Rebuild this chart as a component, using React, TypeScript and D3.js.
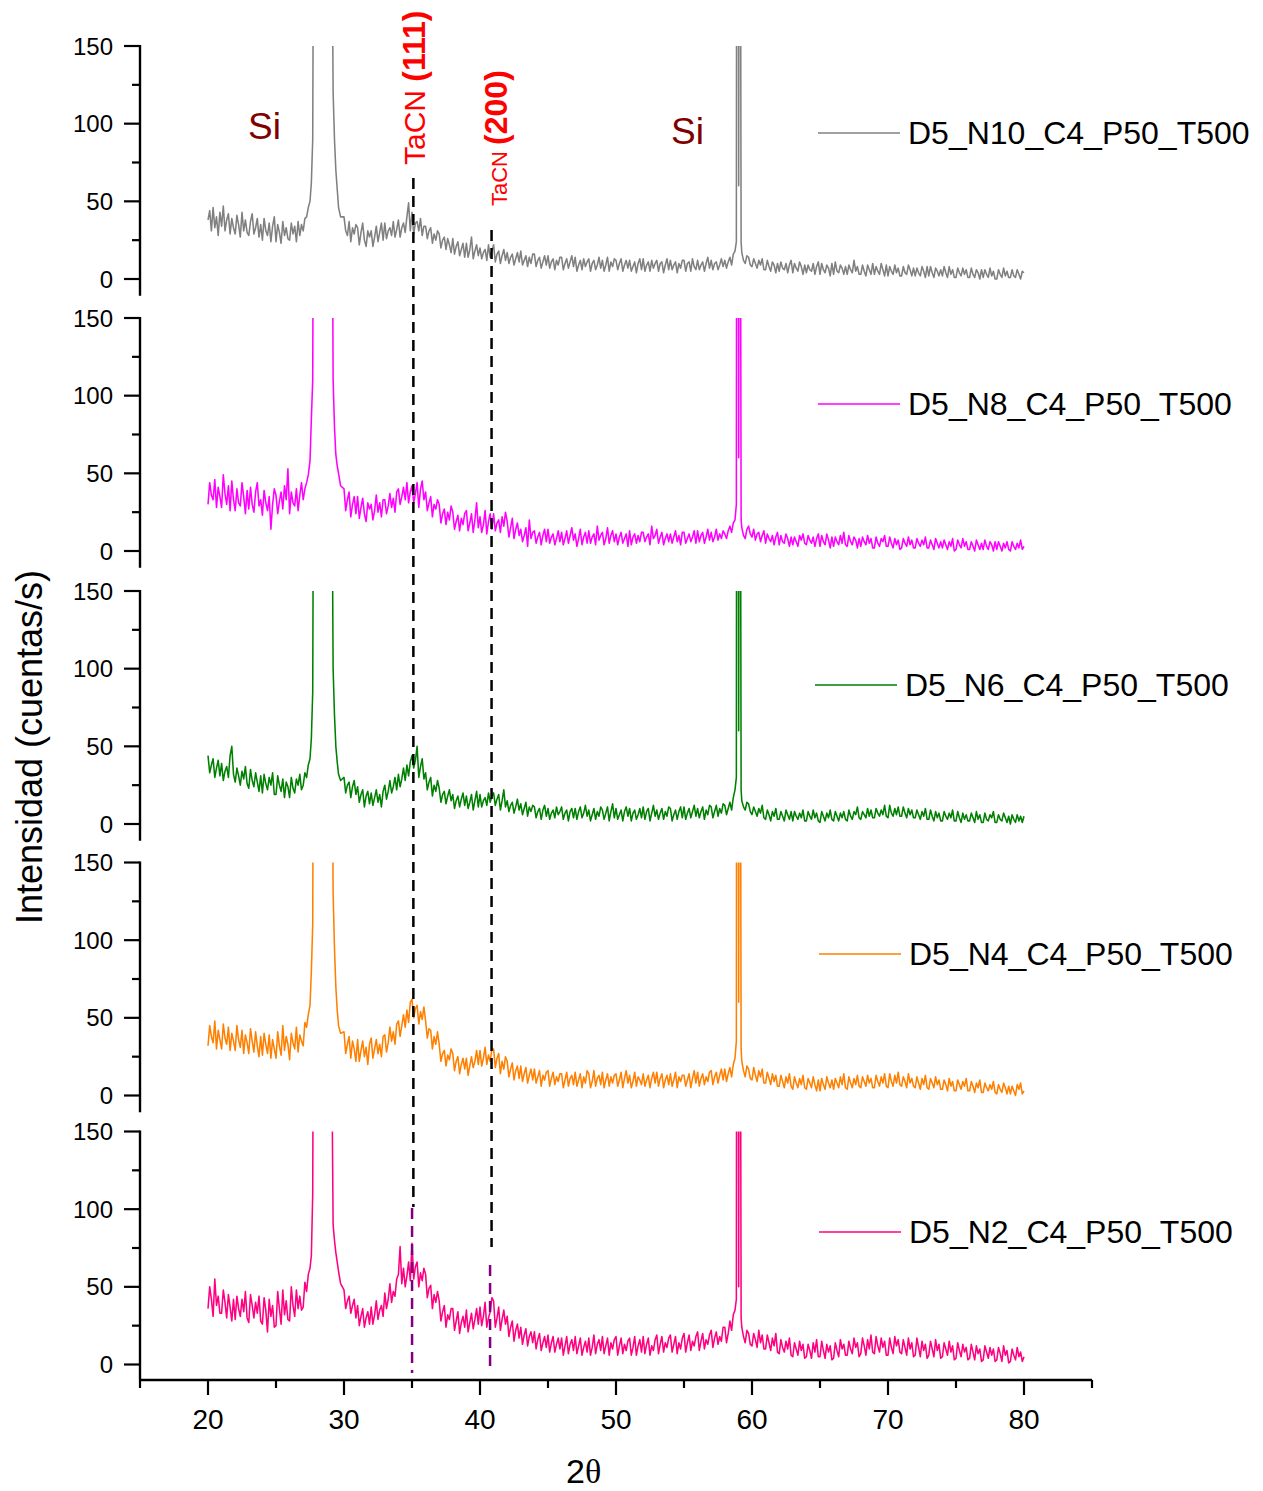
import React from "react";
import * as d3 from "d3";

// 2θ sampling positions shared by all five patterns
const ANGLES = [
  20, 20.125, 20.25, 20.375, 20.5, 20.625, 20.75, 20.875,
  21, 21.125, 21.25, 21.375, 21.5, 21.625, 21.75, 21.875,
  22, 22.125, 22.25, 22.375, 22.5, 22.625, 22.75, 22.875,
  23, 23.125, 23.25, 23.375, 23.5, 23.625, 23.75, 23.875,
  24, 24.125, 24.25, 24.375, 24.5, 24.625, 24.75, 24.875,
  25, 25.125, 25.25, 25.375, 25.5, 25.625, 25.75, 25.875,
  26, 26.125, 26.25, 26.375, 26.5, 26.625, 26.75, 26.875,
  27, 27.125, 27.25, 27.375, 27.5,
  27.6, 27.7, 27.75, 28.4, 29.1, 29.2, 29.3, 29.4, 29.5, 29.6, 29.75,
  30, 30.125, 30.25, 30.375, 30.5, 30.625, 30.75, 30.875,
  31, 31.125, 31.25, 31.375, 31.5, 31.625, 31.75, 31.875,
  32, 32.125, 32.25, 32.375, 32.5, 32.625, 32.75, 32.875,
  33, 33.125, 33.25, 33.375, 33.5, 33.625, 33.75, 33.875,
  34, 34.125, 34.25, 34.375, 34.5, 34.625, 34.75, 34.875,
  35, 35.125, 35.25, 35.375, 35.5, 35.625, 35.75, 35.875,
  36, 36.125, 36.25, 36.375, 36.5, 36.625, 36.75, 36.875,
  37, 37.125, 37.25, 37.375, 37.5, 37.625, 37.75, 37.875,
  38, 38.125, 38.25, 38.375, 38.5, 38.625, 38.75, 38.875,
  39, 39.125, 39.25, 39.375, 39.5, 39.625, 39.75, 39.875,
  40, 40.125, 40.25, 40.375, 40.5, 40.625, 40.75, 40.875,
  41, 41.125, 41.25, 41.375, 41.5, 41.625, 41.75, 41.875,
  42, 42.125, 42.25, 42.375, 42.5, 42.625, 42.75, 42.875,
  43, 43.125, 43.25, 43.375, 43.5, 43.625, 43.75, 43.875,
  44, 44.125, 44.25, 44.375, 44.5, 44.625, 44.75, 44.875,
  45, 45.125, 45.25, 45.375, 45.5, 45.625, 45.75, 45.875,
  46, 46.125, 46.25, 46.375, 46.5, 46.625, 46.75, 46.875,
  47, 47.125, 47.25, 47.375, 47.5, 47.625, 47.75, 47.875,
  48, 48.125, 48.25, 48.375, 48.5, 48.625, 48.75, 48.875,
  49, 49.125, 49.25, 49.375, 49.5, 49.625, 49.75, 49.875,
  50, 50.125, 50.25, 50.375, 50.5, 50.625, 50.75, 50.875,
  51, 51.125, 51.25, 51.375, 51.5, 51.625, 51.75, 51.875,
  52, 52.125, 52.25, 52.375, 52.5, 52.625, 52.75, 52.875,
  53, 53.125, 53.25, 53.375, 53.5, 53.625, 53.75, 53.875,
  54, 54.125, 54.25, 54.375, 54.5, 54.625, 54.75, 54.875,
  55, 55.125, 55.25, 55.375, 55.5, 55.625, 55.75, 55.875,
  56, 56.125, 56.25, 56.375, 56.5, 56.625, 56.75, 56.875,
  57, 57.125, 57.25, 57.375, 57.5, 57.625, 57.75, 57.875,
  58, 58.125, 58.25, 58.375, 58.5, 58.625, 58.75,
  58.85, 58.9, 58.95, 59.02, 59.1, 59.15, 59.2,
  59.25, 59.375, 59.5, 59.625, 59.75, 59.875,
  60, 60.125, 60.25, 60.375, 60.5, 60.625, 60.75, 60.875,
  61, 61.125, 61.25, 61.375, 61.5, 61.625, 61.75, 61.875,
  62, 62.125, 62.25, 62.375, 62.5, 62.625, 62.75, 62.875,
  63, 63.125, 63.25, 63.375, 63.5, 63.625, 63.75, 63.875,
  64, 64.125, 64.25, 64.375, 64.5, 64.625, 64.75, 64.875,
  65, 65.125, 65.25, 65.375, 65.5, 65.625, 65.75, 65.875,
  66, 66.125, 66.25, 66.375, 66.5, 66.625, 66.75, 66.875,
  67, 67.125, 67.25, 67.375, 67.5, 67.625, 67.75, 67.875,
  68, 68.125, 68.25, 68.375, 68.5, 68.625, 68.75, 68.875,
  69, 69.125, 69.25, 69.375, 69.5, 69.625, 69.75, 69.875,
  70, 70.125, 70.25, 70.375, 70.5, 70.625, 70.75, 70.875,
  71, 71.125, 71.25, 71.375, 71.5, 71.625, 71.75, 71.875,
  72, 72.125, 72.25, 72.375, 72.5, 72.625, 72.75, 72.875,
  73, 73.125, 73.25, 73.375, 73.5, 73.625, 73.75, 73.875,
  74, 74.125, 74.25, 74.375, 74.5, 74.625, 74.75, 74.875,
  75, 75.125, 75.25, 75.375, 75.5, 75.625, 75.75, 75.875,
  76, 76.125, 76.25, 76.375, 76.5, 76.625, 76.75, 76.875,
  77, 77.125, 77.25, 77.375, 77.5, 77.625, 77.75, 77.875,
  78, 78.125, 78.25, 78.375, 78.5, 78.625, 78.75, 78.875,
  79, 79.125, 79.25, 79.375, 79.5, 79.625, 79.75, 79.875,
  80,
];

const N10 = [
  38, 44, 31, 46, 33, 40, 28, 43,
  34, 47, 31, 38, 42, 29, 39, 33,
  29, 41, 35, 27, 43, 31, 38, 30,
  28, 37, 42, 29, 33, 39, 27, 35,
  25, 39, 31, 28, 36, 24, 34, 40,
  24, 35, 30, 23, 37, 28, 33, 26,
  25, 36, 29, 34, 24, 37, 28, 35,
  31, 39, 40, 46, 50,
  62, 90, 220, 3000, 250, 120, 90, 70, 58, 46, 40,
  40, 31, 28, 37, 24, 33, 29, 35,
  33, 22, 30, 36, 25, 21, 31, 27,
  31, 21, 27, 34, 24, 30, 36, 25,
  36, 26, 31, 33, 28, 37, 27, 32,
  38, 27, 33, 36, 30, 40, 49, 31,
  43, 29, 36, 37, 31, 39, 28, 34,
  34, 26, 31, 33, 23, 29, 25, 31,
  29, 20, 25, 27, 19, 26, 22, 17,
  26, 16, 21, 24, 15, 19, 23, 14,
  23, 14, 19, 27, 13, 18, 22, 15,
  20, 13, 17, 19, 12, 22, 14, 18,
  22, 11, 16, 18, 10, 15, 19, 12,
  17, 10, 14, 16, 9, 13, 17, 11,
  18, 9, 12, 15, 8, 14, 10, 16,
  16, 8, 12, 14, 7, 11, 15, 9,
  15, 7, 11, 13, 6, 12, 9, 14,
  14, 6, 10, 13, 7, 11, 15, 8,
  14, 5, 9, 12, 6, 13, 8, 11,
  13, 5, 10, 12, 6, 9, 14, 7,
  12, 5, 9, 14, 5, 11, 8, 13,
  12, 6, 10, 13, 5, 9, 12, 7,
  12, 5, 8, 11, 4, 10, 13, 6,
  13, 5, 9, 11, 5, 12, 7, 10,
  12, 5, 10, 11, 4, 9, 13, 6,
  12, 6, 9, 11, 4, 10, 7, 12,
  12, 5, 10, 11, 5, 13, 8, 6,
  12, 6, 9, 11, 5, 10, 14, 7,
  12, 6, 10, 11, 6, 9, 13, 8,
  12, 7, 11, 14, 9, 16, 18,
  24, 600, 600, 60, 600, 250, 24,
  17, 12, 10, 15, 14, 9,
  8, 13, 10, 7, 12, 9, 13, 6,
  6, 12, 8, 5, 11, 9, 4, 10,
  5, 11, 7, 6, 10, 4, 9, 12,
  4, 10, 7, 5, 11, 8, 3, 9,
  4, 9, 6, 5, 10, 3, 8, 11,
  3, 10, 6, 4, 9, 7, 2, 10,
  3, 11, 5, 4, 9, 7, 3, 8,
  3, 9, 6, 4, 12, 5, 8, 3,
  3, 9, 5, 2, 9, 6, 3, 10,
  3, 8, 5, 3, 10, 6, 2, 9,
  2, 8, 5, 3, 9, 4, 7, 2,
  2, 8, 4, 3, 9, 6, 2, 7,
  2, 7, 4, 2, 8, 5, 1, 8,
  2, 8, 4, 1, 7, 5, 2, 6,
  2, 8, 4, 1, 8, 3, 6, 1,
  1, 7, 4, 2, 7, 3, 6, 1,
  1, 7, 3, 1, 6, 4, 0, 6,
  1, 6, 3, 1, 7, 2, 5, 0,
  0, 6, 3, 1, 7, 2, 5, 1,
  1, 6, 2, 1, 6, 3, 0, 5,
  4,
];

const N8 = [
  30, 44, 36, 33, 46, 28, 41, 35,
  28, 49, 37, 30, 42, 26, 45, 33,
  26, 40, 31, 29, 44, 35, 24, 39,
  27, 41, 30, 25, 38, 44, 29, 33,
  23, 39, 31, 26, 35, 14, 30, 40,
  36, 24, 32, 38, 27, 42, 33, 53,
  24, 38, 31, 29, 40, 26, 36, 44,
  33, 40, 44, 49, 58,
  85, 110, 250, 3000, 300, 110, 80, 62, 55, 50, 42,
  40, 26, 33, 38, 22, 30, 35, 24,
  35, 21, 28, 34, 24, 19, 31, 27,
  30, 20, 26, 36, 25, 31, 22, 33,
  33, 24, 29, 37, 28, 34, 25, 38,
  40, 30, 35, 41, 33, 44, 31, 38,
  42, 31, 37, 44, 28, 40, 45, 33,
  38, 26, 31, 35, 22, 30, 27, 33,
  30, 18, 24, 27, 17, 25, 20, 29,
  25, 14, 19, 23, 13, 21, 17, 24,
  26, 13, 18, 24, 12, 20, 31, 15,
  22, 12, 17, 26, 11, 19, 24, 14,
  24, 13, 18, 20, 12, 22, 16, 25,
  19, 9, 15, 21, 8, 14, 18, 10,
  14, 6, 10, 15, 3, 20, 8, 12,
  13, 5, 9, 12, 4, 10, 14, 6,
  14, 5, 9, 11, 4, 8, 13, 6,
  12, 4, 8, 13, 5, 10, 15, 7,
  11, 3, 8, 14, 4, 9, 12, 5,
  13, 5, 9, 11, 4, 16, 7, 10,
  12, 4, 8, 15, 5, 10, 13, 6,
  11, 4, 9, 12, 5, 8, 11, 3,
  13, 4, 9, 11, 5, 10, 6, 12,
  12, 6, 9, 11, 4, 16, 8, 10,
  14, 5, 9, 12, 4, 8, 11, 6,
  11, 5, 9, 13, 6, 10, 4, 12,
  12, 5, 8, 11, 6, 9, 13, 5,
  13, 6, 10, 12, 5, 9, 14, 7,
  12, 6, 9, 14, 7, 11, 8, 13,
  11, 8, 13, 16, 12, 18, 20,
  30, 600, 600, 60, 600, 250, 20,
  15, 10, 8, 14, 16, 11,
  9, 14, 7, 11, 12, 6, 10, 13,
  5, 11, 8, 6, 10, 4, 9, 12,
  4, 10, 6, 5, 11, 8, 3, 9,
  4, 9, 6, 3, 10, 7, 11, 5,
  4, 10, 7, 5, 9, 3, 8, 11,
  3, 10, 6, 4, 11, 7, 2, 9,
  3, 9, 6, 4, 10, 5, 12, 4,
  3, 10, 6, 4, 9, 7, 2, 8,
  3, 9, 6, 4, 10, 5, 8, 2,
  2, 9, 5, 3, 8, 6, 10, 3,
  3, 9, 5, 2, 8, 4, 7, 1,
  2, 8, 5, 3, 9, 4, 7, 2,
  2, 8, 5, 3, 7, 4, 9, 2,
  2, 7, 4, 1, 8, 5, 2, 6,
  2, 7, 4, 1, 6, 3, 8, 0,
  1, 7, 4, 2, 8, 3, 6, 1,
  1, 6, 3, 0, 7, 4, 1, 5,
  1, 7, 3, 1, 6, 4, 0, 6,
  1, 6, 3, 0, 5, 2, 6, 1,
  0, 6, 3, 1, 5, 2, 7, 1,
  3,
];

const N6 = [
  44, 33, 38, 42, 30, 36, 41, 31,
  39, 28, 34, 37, 30, 44, 50, 32,
  27, 36, 31, 25, 34, 29, 37, 26,
  23, 35, 28, 24, 33, 27, 21, 31,
  20, 32, 26, 22, 30, 25, 33, 19,
  19, 31, 25, 21, 29, 17, 27, 24,
  17, 30, 23, 20, 29, 25, 32, 22,
  25, 33, 30, 38, 42,
  55, 85, 220, 3000, 250, 100, 70, 50, 40, 32, 28,
  30, 20, 25, 27, 17, 24, 28, 19,
  24, 14, 19, 22, 11, 18, 21, 13,
  20, 12, 17, 22, 14, 19, 11, 21,
  25, 16, 21, 28, 20, 24, 30, 22,
  32, 24, 29, 36, 28, 38, 31, 40,
  44, 36, 41, 50, 30, 37, 42, 29,
  33, 22, 27, 30, 18, 25, 21, 28,
  23, 14, 19, 21, 13, 18, 22, 15,
  19, 10, 15, 18, 11, 16, 20, 12,
  18, 10, 14, 19, 9, 15, 21, 11,
  19, 11, 15, 17, 12, 20, 14, 18,
  20, 12, 16, 19, 9, 15, 22, 11,
  15, 8, 12, 14, 7, 11, 16, 9,
  13, 6, 10, 14, 5, 11, 8, 12,
  11, 4, 8, 10, 3, 9, 12, 5,
  10, 3, 7, 9, 4, 11, 6, 8,
  11, 3, 7, 9, 2, 8, 10, 4,
  10, 3, 8, 11, 4, 7, 12, 5,
  9, 2, 6, 10, 3, 8, 5, 11,
  9, 3, 7, 11, 2, 8, 13, 4,
  10, 3, 6, 9, 2, 8, 11, 5,
  10, 2, 7, 9, 3, 6, 10, 4,
  11, 3, 8, 10, 2, 7, 12, 5,
  9, 3, 7, 10, 3, 8, 5, 11,
  10, 2, 6, 9, 3, 8, 11, 4,
  11, 3, 7, 10, 4, 8, 12, 5,
  10, 4, 8, 11, 3, 9, 6, 12,
  11, 4, 8, 12, 5, 10, 7, 13,
  12, 6, 10, 14, 9, 17, 22,
  30, 600, 600, 60, 600, 250, 22,
  15, 11, 9, 14, 13, 8,
  6, 11, 8, 5, 10, 7, 12, 4,
  3, 9, 6, 2, 8, 5, 10, 3,
  3, 8, 5, 2, 9, 6, 3, 8,
  2, 8, 5, 3, 7, 4, 9, 2,
  2, 8, 5, 3, 9, 4, 7, 2,
  1, 8, 5, 2, 7, 4, 9, 3,
  2, 8, 5, 2, 7, 4, 8, 3,
  2, 9, 5, 3, 8, 6, 11, 4,
  3, 8, 6, 4, 10, 5, 9, 4,
  4, 10, 7, 5, 9, 6, 12, 5,
  4, 12, 7, 5, 10, 6, 11, 5,
  5, 11, 7, 4, 10, 6, 9, 4,
  4, 9, 6, 3, 8, 5, 10, 3,
  3, 9, 5, 2, 8, 4, 7, 2,
  2, 8, 5, 3, 7, 4, 9, 2,
  2, 8, 4, 1, 7, 3, 6, 2,
  2, 7, 4, 1, 8, 3, 6, 1,
  1, 7, 3, 2, 6, 4, 8, 1,
  1, 6, 3, 2, 7, 4, 1, 5,
  0, 6, 3, 1, 6, 2, 5, 1,
  5,
];

const N4 = [
  32, 45, 38, 34, 48, 30, 42, 36,
  30, 46, 37, 33, 44, 29, 40, 35,
  29, 45, 36, 31, 42, 27, 39, 34,
  27, 43, 35, 28, 41, 32, 25, 38,
  26, 40, 33, 27, 39, 24, 36, 30,
  24, 41, 32, 26, 45, 29, 38, 33,
  23, 40, 34, 30, 44, 28, 39, 35,
  32, 47, 44, 52, 58,
  80, 110, 250, 3000, 280, 130, 95, 70, 55, 45, 40,
  41, 27, 33, 38, 24, 35, 30, 22,
  36, 22, 29, 35, 25, 31, 20, 33,
  37, 24, 30, 36, 27, 33, 25, 38,
  39, 28, 34, 44, 35, 41, 33, 46,
  48, 38, 45, 52, 44, 55, 47, 60,
  62, 50, 56, 58, 46, 54, 49, 57,
  48, 37, 43, 42, 30, 38, 33, 41,
  33, 22, 27, 29, 19, 26, 23, 30,
  27, 16, 22, 25, 14, 20, 24, 17,
  24, 13, 19, 25, 18, 22, 29, 20,
  29, 19, 24, 31, 20, 26, 22, 30,
  30, 18, 24, 27, 14, 22, 17, 25,
  22, 12, 17, 21, 10, 16, 19, 11,
  19, 9, 14, 18, 8, 13, 17, 10,
  17, 8, 12, 16, 6, 13, 10, 15,
  16, 6, 11, 15, 7, 12, 9, 14,
  14, 5, 10, 15, 6, 11, 13, 7,
  15, 6, 10, 14, 5, 12, 8, 16,
  14, 5, 9, 16, 6, 11, 13, 7,
  15, 5, 10, 14, 6, 12, 8, 13,
  14, 6, 10, 15, 5, 11, 16, 8,
  13, 5, 9, 15, 6, 12, 10, 7,
  14, 6, 10, 13, 5, 11, 15, 8,
  15, 6, 11, 14, 5, 10, 13, 7,
  14, 6, 10, 15, 5, 12, 9, 13,
  13, 6, 10, 14, 5, 11, 16, 8,
  15, 6, 11, 14, 7, 12, 9, 15,
  16, 7, 12, 15, 8, 13, 17, 10,
  17, 9, 14, 18, 12, 20, 24,
  35, 600, 600, 60, 600, 250, 30,
  22, 16, 12, 19, 17, 11,
  10, 18, 13, 9, 16, 12, 17, 8,
  8, 15, 11, 7, 14, 9, 13, 6,
  6, 13, 9, 5, 12, 8, 14, 6,
  4, 12, 8, 5, 11, 7, 13, 5,
  4, 11, 8, 5, 12, 7, 3, 10,
  3, 11, 7, 4, 12, 8, 5, 10,
  4, 11, 8, 5, 12, 7, 14, 5,
  4, 12, 8, 5, 11, 7, 13, 6,
  5, 12, 9, 6, 13, 8, 11, 5,
  5, 13, 9, 6, 12, 8, 14, 6,
  5, 14, 9, 6, 13, 8, 15, 7,
  6, 12, 9, 5, 14, 8, 11, 6,
  5, 12, 8, 4, 11, 7, 13, 5,
  4, 11, 8, 5, 12, 7, 10, 4,
  4, 10, 7, 3, 11, 6, 9, 3,
  3, 10, 7, 4, 9, 6, 11, 3,
  3, 9, 6, 2, 8, 5, 10, 2,
  2, 8, 5, 3, 7, 4, 9, 2,
  1, 7, 4, 2, 8, 5, 1, 6,
  1, 6, 3, 0, 7, 4, 8, 1,
  3,
];

const N2 = [
  36, 50, 42, 31, 55, 38, 44, 33,
  33, 48, 40, 30, 45, 37, 28, 42,
  29, 44, 36, 31, 42, 34, 47, 30,
  27, 45, 38, 30, 40, 33, 44, 28,
  26, 43, 35, 21, 42, 31, 38, 24,
  25, 47, 36, 26, 48, 32, 41, 29,
  28, 50, 38, 31, 48, 36, 44, 35,
  37, 53, 47, 58, 62,
  70, 110, 250, 3000, 200, 90, 80, 72, 66, 60, 52,
  48, 36, 41, 44, 33, 38, 42, 30,
  38, 25, 31, 36, 24, 30, 34, 26,
  37, 26, 32, 41, 29, 35, 38, 31,
  46, 36, 42, 52, 40, 47, 44, 55,
  58, 76, 52, 62, 50, 57, 66, 54,
  78, 55, 63, 66, 50, 59, 54, 62,
  58, 43, 49, 51, 36, 45, 40, 47,
  41, 28, 34, 38, 24, 32, 29, 36,
  36, 22, 28, 34, 20, 27, 31, 24,
  35, 21, 27, 33, 23, 29, 36, 26,
  37, 25, 31, 40, 24, 30, 34, 43,
  41, 24, 30, 37, 22, 29, 35, 26,
  31, 18, 24, 28, 15, 22, 26, 17,
  24, 13, 19, 23, 12, 18, 21, 14,
  21, 10, 16, 20, 9, 14, 18, 11,
  19, 8, 14, 18, 8, 13, 17, 10,
  17, 6, 12, 18, 7, 13, 16, 9,
  18, 7, 12, 17, 6, 11, 15, 8,
  17, 6, 11, 19, 7, 13, 16, 9,
  18, 7, 12, 17, 6, 14, 10, 16,
  18, 6, 12, 17, 7, 13, 9, 15,
  17, 6, 11, 18, 6, 12, 16, 8,
  18, 7, 13, 17, 6, 12, 9, 16,
  19, 7, 13, 18, 8, 14, 11, 17,
  19, 8, 13, 18, 7, 14, 10, 17,
  20, 8, 14, 19, 9, 15, 12, 18,
  21, 9, 15, 20, 10, 16, 13, 19,
  22, 11, 17, 21, 13, 18, 15, 24,
  24, 14, 20, 28, 22, 32, 35,
  42, 600, 600, 50, 600, 250, 30,
  24, 18, 14, 22, 20, 13,
  12, 20, 16, 11, 22, 14, 19, 10,
  10, 19, 14, 9, 17, 12, 20, 8,
  7, 16, 11, 8, 15, 10, 17, 6,
  5, 14, 10, 6, 15, 9, 13, 4,
  5, 13, 9, 4, 14, 8, 16, 5,
  5, 15, 9, 4, 13, 8, 12, 3,
  4, 14, 9, 5, 16, 10, 13, 6,
  6, 15, 10, 7, 17, 11, 14, 5,
  7, 17, 12, 6, 16, 10, 19, 8,
  7, 18, 12, 8, 17, 11, 15, 6,
  6, 17, 11, 7, 18, 12, 16, 8,
  7, 16, 11, 6, 17, 10, 14, 5,
  6, 17, 11, 5, 15, 9, 13, 4,
  6, 15, 10, 5, 16, 9, 13, 4,
  5, 14, 10, 6, 15, 8, 12, 3,
  4, 14, 9, 5, 13, 8, 11, 3,
  4, 13, 8, 3, 12, 7, 10, 2,
  3, 12, 8, 4, 11, 6, 10, 2,
  3, 11, 7, 2, 12, 6, 9, 1,
  2, 10, 6, 3, 11, 5, 8, 2,
  5,
];

const SERIES_NAMES = [
  "D5_N10_C4_P50_T500",
  "D5_N8_C4_P50_T500",
  "D5_N6_C4_P50_T500",
  "D5_N4_C4_P50_T500",
  "D5_N2_C4_P50_T500",
];
const SERIES_VALUES = [N10, N8, N6, N4, N2];
const SERIES_COLORS = ["#808080", "#FF00FF", "#008000", "#FF8000", "#FF0080"];

const X_TICKS = [20, 30, 40, 50, 60, 70, 80];
const X_MINOR = [15, 25, 35, 45, 55, 65, 75, 85];
const Y_TICKS = [0, 50, 100, 150];
const Y_MINOR = [25, 75, 125];

// reference reflections (2θ)
const TACN_111 = 35.1;
const TACN_200 = 40.85;

const FONT = "'Liberation Sans', Arial, Helvetica, sans-serif";

export default function App() {
  const W = 1263;
  const H = 1491;
  const x = d3.scaleLinear().domain([15, 85]).range([140, 1092]);
  const panelTops = [46, 318, 591, 862.5, 1131.5];
  const legendY = [133, 404, 685, 954, 1232];
  const legendX = [818, 818, 815, 819, 819];

  const panels = SERIES_VALUES.map((vals, i) => {
    const top = panelTops[i];
    const y = d3.scaleLinear().domain([0, 150]).range([top + 233, top]);
    const line = d3
      .line<number>()
      .defined((v, j) => v != null && ANGLES[j] != null)
      .x((_, j) => x(ANGLES[j]))
      .y((v) => y(v));
    const bottom = i === 4 ? 1380 : y(-10.8);
    return (
      <g key={i}>
        <clipPath id={`clip${i}`}>
          <rect x={140} y={top} width={952} height={bottom - top} />
        </clipPath>
        <path
          d={line(vals) || ""}
          fill="none"
          stroke={SERIES_COLORS[i]}
          strokeWidth={1.55}
          strokeLinejoin="round"
          clipPath={`url(#clip${i})`}
        />
        {/* y axis */}
        <line x1={140} x2={140} y1={top - 1} y2={bottom} stroke="#000" strokeWidth={2.4} />
        {Y_TICKS.map((t) => (
          <g key={`t${t}`}>
            <line x1={124} x2={140} y1={y(t)} y2={y(t)} stroke="#000" strokeWidth={2.2} />
            <text x={113} y={y(t) + 8.6} textAnchor="end" fontSize={24} fontFamily={FONT} fill="#000">
              {t}
            </text>
          </g>
        ))}
        {Y_MINOR.map((t) => (
          <line key={`m${t}`} x1={132} x2={140} y1={y(t)} y2={y(t)} stroke="#000" strokeWidth={2.2} />
        ))}
        {/* legend */}
        <line
          x1={legendX[i]}
          x2={legendX[i] + 82}
          y1={legendY[i]}
          y2={legendY[i]}
          stroke={SERIES_COLORS[i]}
          strokeWidth={1.4}
        />
        <text x={legendX[i] + 90} y={legendY[i] + 11} fontSize={32} fontFamily={FONT} fill="#000">
          {SERIES_NAMES[i]}
        </text>
      </g>
    );
  });

  return (
    <svg width={W} height={H} style={{ position: "absolute", left: 0, top: 0, background: "#fff" }}>
      <rect x={0} y={0} width={W} height={H} fill="#fff" />
      {panels}

      {/* reference lines */}
      <line x1={x(TACN_111)} x2={x(TACN_111)} y1={178} y2={1207} stroke="#000" strokeWidth={2.5} strokeDasharray="11 7" />
      <line x1={x(TACN_200)} x2={x(TACN_200)} y1={230} y2={1247} stroke="#000" strokeWidth={2.5} strokeDasharray="11 7" />
      <line x1={x(TACN_111) - 1.3} x2={x(TACN_111) - 1.3} y1={1208} y2={1373} stroke="#800080" strokeWidth={2.5} strokeDasharray="11 7" />
      <line x1={x(TACN_200) - 1.5} x2={x(TACN_200) - 1.5} y1={1265} y2={1373} stroke="#800080" strokeWidth={2.5} strokeDasharray="11 7" />

      {/* x axis */}
      <line x1={140} x2={1092} y1={1380} y2={1380} stroke="#000" strokeWidth={2.4} />
      {X_TICKS.map((t) => (
        <g key={`x${t}`}>
          <line x1={x(t)} x2={x(t)} y1={1380} y2={1395} stroke="#000" strokeWidth={2.2} />
          <text x={x(t)} y={1429} textAnchor="middle" fontSize={28} fontFamily={FONT} fill="#000">
            {t}
          </text>
        </g>
      ))}
      {X_MINOR.map((t) => (
        <line key={`xm${t}`} x1={x(t)} x2={x(t)} y1={1380} y2={1388} stroke="#000" strokeWidth={2.2} />
      ))}

      {/* axis titles */}
      <text x={566} y={1483} fontSize={34} fontFamily={FONT} fill="#000">
        2<tspan fontFamily="'Liberation Serif', 'Times New Roman', serif">θ</tspan>
      </text>
      <text
        transform="translate(42,747) rotate(-90)"
        textAnchor="middle"
        fontSize={36}
        fontFamily={FONT}
        fill="#000"
      >
        Intensidad (cuentas/s)
      </text>

      {/* annotations */}
      <text x={248} y={139} fontSize={37} fontFamily={FONT} fill="#800000">Si</text>
      <text x={671} y={144} fontSize={37} fontFamily={FONT} fill="#800000">Si</text>
      <text transform="translate(425,165) rotate(-90)" fontFamily={FONT} fill="#FF0000">
        <tspan fontSize={30}>TaCN </tspan>
        <tspan fontSize={32} fontWeight="bold">(111)</tspan>
      </text>
      <text transform="translate(507,206) rotate(-90)" fontFamily={FONT} fill="#FF0000">
        <tspan fontSize={22}>TaCN </tspan>
        <tspan fontSize={32} fontWeight="bold">(200)</tspan>
      </text>
    </svg>
  );
}
